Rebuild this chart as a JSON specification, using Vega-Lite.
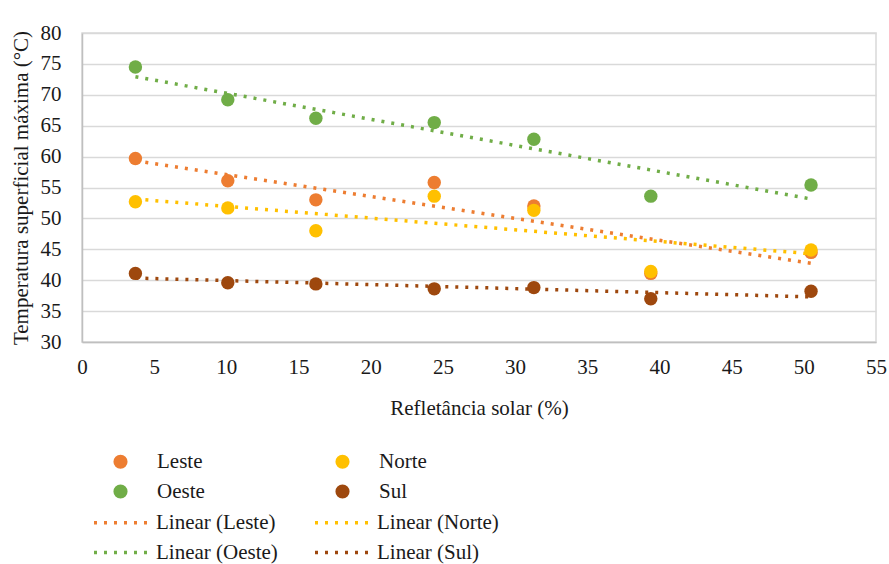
{
  "$schema": "https://vega.github.io/schema/vega-lite/v6.json",
  "width": 794,
  "height": 309,
  "autosize": "none",
  "padding": {"left": 82, "top": 33, "right": 13, "bottom": 222},
  "background": "white",
  "config": {
    "font": "Liberation Serif",
    "view": {"stroke": "#d9d9d9", "strokeWidth": 1.5},
    "axis": {"labelFont": "Liberation Serif", "titleFont": "Liberation Serif", "labelColor": "#1a1a1a", "titleColor": "#1a1a1a", "titleFontWeight": "normal"},
    "legend": {"labelFont": "Liberation Serif", "labelColor": "#1a1a1a"}
  },
  "data": {
    "values": [
      {"serie": "Leste", "trend": "Linear (Leste)", "x": 3.7, "y": 59.7},
      {"serie": "Leste", "trend": "Linear (Leste)", "x": 10.1, "y": 56.1},
      {"serie": "Leste", "trend": "Linear (Leste)", "x": 16.2, "y": 53.0},
      {"serie": "Leste", "trend": "Linear (Leste)", "x": 24.4, "y": 55.8},
      {"serie": "Leste", "trend": "Linear (Leste)", "x": 31.3, "y": 52.0},
      {"serie": "Leste", "trend": "Linear (Leste)", "x": 39.4, "y": 41.1},
      {"serie": "Leste", "trend": "Linear (Leste)", "x": 50.5, "y": 44.5},
      {"serie": "Norte", "trend": "Linear (Norte)", "x": 3.7, "y": 52.7},
      {"serie": "Norte", "trend": "Linear (Norte)", "x": 10.1, "y": 51.7},
      {"serie": "Norte", "trend": "Linear (Norte)", "x": 16.2, "y": 48.0},
      {"serie": "Norte", "trend": "Linear (Norte)", "x": 24.4, "y": 53.6},
      {"serie": "Norte", "trend": "Linear (Norte)", "x": 31.3, "y": 51.3},
      {"serie": "Norte", "trend": "Linear (Norte)", "x": 39.4, "y": 41.4},
      {"serie": "Norte", "trend": "Linear (Norte)", "x": 50.5, "y": 44.9},
      {"serie": "Oeste", "trend": "Linear (Oeste)", "x": 3.7, "y": 74.5},
      {"serie": "Oeste", "trend": "Linear (Oeste)", "x": 10.1, "y": 69.2},
      {"serie": "Oeste", "trend": "Linear (Oeste)", "x": 16.2, "y": 66.2},
      {"serie": "Oeste", "trend": "Linear (Oeste)", "x": 24.4, "y": 65.5},
      {"serie": "Oeste", "trend": "Linear (Oeste)", "x": 31.3, "y": 62.8},
      {"serie": "Oeste", "trend": "Linear (Oeste)", "x": 39.4, "y": 53.6},
      {"serie": "Oeste", "trend": "Linear (Oeste)", "x": 50.5, "y": 55.4},
      {"serie": "Sul", "trend": "Linear (Sul)", "x": 3.7, "y": 41.1},
      {"serie": "Sul", "trend": "Linear (Sul)", "x": 10.1, "y": 39.6},
      {"serie": "Sul", "trend": "Linear (Sul)", "x": 16.2, "y": 39.4},
      {"serie": "Sul", "trend": "Linear (Sul)", "x": 24.4, "y": 38.6},
      {"serie": "Sul", "trend": "Linear (Sul)", "x": 31.3, "y": 38.8},
      {"serie": "Sul", "trend": "Linear (Sul)", "x": 39.4, "y": 37.0},
      {"serie": "Sul", "trend": "Linear (Sul)", "x": 50.5, "y": 38.2}
    ]
  },
  "encoding": {
    "x": {
      "field": "x", "type": "quantitative",
      "scale": {"domain": [0, 55], "nice": false, "zero": false},
      "axis": {
        "values": [0, 5, 10, 15, 20, 25, 30, 35, 40, 45, 50, 55],
        "grid": false, "ticks": false, "domain": true, "domainColor": "#bfbfbf", "domainWidth": 1.5,
        "labelFontSize": 21, "labelPadding": 14, "labelFlush": false, "labelOverlap": false,
        "title": "Refletância solar (%)", "titleFontSize": 21, "titlePadding": 20
      }
    },
    "y": {
      "field": "y", "type": "quantitative",
      "scale": {"domain": [30, 80], "nice": false, "zero": false},
      "axis": {
        "values": [30, 35, 40, 45, 50, 55, 60, 65, 70, 75, 80],
        "grid": true, "gridColor": "#d9d9d9", "gridWidth": 1.5,
        "ticks": false, "domain": true, "domainColor": "#bfbfbf", "domainWidth": 1.5,
        "labelFontSize": 21, "labelPadding": 21, "labelFlush": false, "labelOverlap": false,
        "title": "Temperatura superficial máxima (°C)", "titleFontSize": 21, "titlePadding": 9
      }
    }
  },
  "layer": [
    {
      "mark": {"type": "point", "filled": true, "size": 180, "opacity": 1},
      "encoding": {
        "color": {
          "field": "serie", "type": "nominal",
          "scale": {"domain": ["Leste", "Oeste", "Norte", "Sul"], "range": ["#ED7D31", "#70AD47", "#FFC000", "#9E480E"]},
          "legend": {
            "title": null, "orient": "none", "legendX": 28, "legendY": 418,
            "columns": 2, "columnPadding": 127, "rowPadding": 8,
            "symbolType": "circle", "symbolSize": 200, "labelFontSize": 21, "labelOffset": 26
          }
        }
      }
    },
    {
      "transform": [{"regression": "y", "on": "x", "groupby": ["serie", "trend"]}],
      "mark": {"type": "line", "strokeDash": [3, 7], "strokeWidth": 3.5},
      "encoding": {
        "color": {
          "field": "trend", "type": "nominal",
          "scale": {"domain": ["Linear (Leste)", "Linear (Oeste)", "Linear (Norte)", "Linear (Sul)"], "range": ["#ED7D31", "#70AD47", "#FFC000", "#9E480E"]},
          "legend": {
            "title": null, "orient": "none", "legendX": 29, "legendY": 479,
            "columns": 2, "columnPadding": 30, "rowPadding": 8,
            "symbolType": "M-5,0H5", "symbolSize": 121, "symbolStrokeWidth": 3.5, "symbolDash": [3, 7],
            "labelFontSize": 21, "labelOffset": 24
          }
        }
      }
    }
  ],
  "resolve": {"scale": {"color": "independent"}}
}
